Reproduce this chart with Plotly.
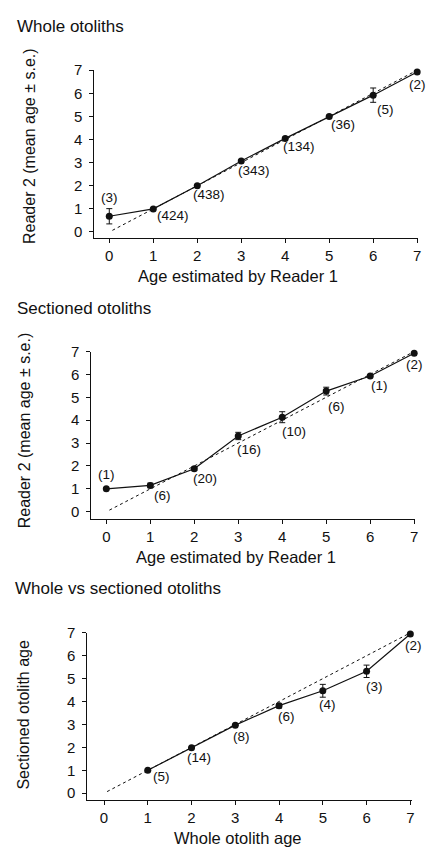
import plotly.graph_objects as go

W, H = 427, 849

# ---------------- data ----------------
ages = [0, 1, 2, 3, 4, 5, 6, 7]
whole_mean = [0.68, 1.0, 2.0, 3.07, 4.05, 5.0, 5.92, 6.92]
whole_se = [0.33, 0.0, 0.0, 0.0, 0.0, 0.0, 0.31, 0.0]
whole_n = ["(3)", "(424)", "(438)", "(343)", "(134)", "(36)", "(5)", "(2)"]

sect_mean = [1.0, 1.15, 1.88, 3.31, 4.13, 5.27, 5.93, 6.92]
sect_se = [0.0, 0.1, 0.07, 0.16, 0.24, 0.17, 0.0, 0.0]
sect_n = ["(1)", "(6)", "(20)", "(16)", "(10)", "(6)", "(1)", "(2)"]

wvs_age = [1, 2, 3, 4, 5, 6, 7]
wvs_mean = [1.0, 1.98, 2.97, 3.82, 4.47, 5.32, 6.95]
wvs_se = [0.0, 0.0, 0.0, 0.1, 0.28, 0.27, 0.0]
wvs_n = ["(5)", "(14)", "(8)", "(6)", "(4)", "(3)", "(2)"]

diag = [0.07, 7.0]
tick_vals = [0, 1, 2, 3, 4, 5, 6, 7]

titles = ["Whole otoliths", "Sectioned otoliths", "Whole vs sectioned otoliths"]
x_titles = ["Age estimated by Reader 1", "Age estimated by Reader 1", "Whole otolith age"]
y_titles = ["Reader 2 (mean age \u00b1 s.e.)", "Reader 2 (mean age \u00b1 s.e.)", "Sectioned otolith age"]

# ---------------- styles / layout helpers ----------------
FONT = "Liberation Sans, Arial, Helvetica, sans-serif"
INK = "#111111"

# label offsets in pixels (xshift, yshift)
whole_off = [(0, 19), (20, -7), (12, -9), (13, -9), (14, -8), (14, -8), (12, -14), (0, -12)]
sect_off = [(0, 14), (12, -10), (11, -10), (11, -14), (12, -14), (10, -15), (9, -10), (0, -11)]
wvs_off = [(14, -6), (7, -10), (6, -11), (7, -11), (5, -14), (8, -15), (3, -12)]

# panel geometry in pixels: (x_left, x_right, y_top, y_bottom, xrange, yrange)
panels = [
    (95, 421, 62, 232, [-0.34, 7.02], [-0.26, 7.0]),
    (92, 418, 347, 517, [-0.34, 7.02], [-0.33, 7.0]),
    (88, 415, 632, 801, [-0.38, 7.04], [-0.28, 7.0]),
]
title_pos = [(15, 18), (15, 303), (13, 587)]
xtitle_pos = [(240, 270), (238, 555), (240, 840)]
ytitle_pos = [(29, 139), (25, 427), (24, 715)]

series = [
    (ages, whole_mean, whole_se, whole_n, whole_off),
    (ages, sect_mean, sect_se, sect_n, sect_off),
    (wvs_age, wvs_mean, wvs_se, wvs_n, wvs_off),
]

fig = go.Figure()
annotations = []
layout_axes = {}

for i, (geom, ser) in enumerate(zip(panels, series)):
    xl, xr, yt, yb, xrng, yrng = geom
    xs, ys, se, ns, offs = ser
    k = "" if i == 0 else str(i + 1)
    xa, ya = "x" + k, "y" + k

    # dashed 1:1 reference line
    fig.add_trace(go.Scatter(
        x=diag, y=diag, mode="lines", xaxis=xa, yaxis=ya,
        line=dict(color=INK, width=1, dash="3px,3px"),
        hoverinfo="skip", showlegend=False, cliponaxis=False,
    ))
    # mean line with s.e.
    fig.add_trace(go.Scatter(
        x=xs, y=ys, mode="lines+markers", xaxis=xa, yaxis=ya,
        line=dict(color=INK, width=1.2),
        marker=dict(color=INK, size=7, symbol="circle"),
        error_y=dict(type="data", array=se, visible=True, color=INK,
                     thickness=1, width=3),
        showlegend=False, cliponaxis=False,
    ))

    for xv, yv, txt, (dx, dy) in zip(xs, ys, ns, offs):
        annotations.append(dict(
            x=xv, y=yv, xref=xa, yref=ya, text=txt, showarrow=False,
            xshift=dx, yshift=dy, xanchor="center", yanchor="middle",
            font=dict(family=FONT, size=13.5, color=INK),
        ))

    common = dict(
        showgrid=False, zeroline=False, showline=True, linecolor=INK,
        linewidth=1, ticks="outside", ticklen=4, tickwidth=1,
        tickcolor=INK, tickfont=dict(family=FONT, size=15, color=INK),
        tickvals=tick_vals, ticktext=[str(t) for t in tick_vals],
    )
    layout_axes["xaxis" + k] = dict(
        common, domain=[xl / W, xr / W], range=xrng,
        anchor=ya, fixedrange=True,
    )
    layout_axes["yaxis" + k] = dict(
        common, domain=[1 - yb / H, 1 - yt / H], range=yrng,
        anchor=xa, fixedrange=True, ticklabelstandoff=4,
    )

    tx, ty = title_pos[i]
    annotations.append(dict(
        x=tx / W, y=1 - ty / H, xref="paper", yref="paper", text=titles[i],
        showarrow=False, xanchor="left", yanchor="middle",
        font=dict(family=FONT, size=17, color=INK),
    ))
    ax, ay = xtitle_pos[i]
    annotations.append(dict(
        x=ax / W, y=1 - ay / H, xref="paper", yref="paper", text=x_titles[i],
        showarrow=False, xanchor="center", yanchor="middle",
        font=dict(family=FONT, size=16.5, color=INK),
    ))
    yx, yy = ytitle_pos[i]
    annotations.append(dict(
        x=yx / W, y=1 - yy / H, xref="paper", yref="paper", text=y_titles[i],
        showarrow=False, xanchor="center", yanchor="middle", textangle=-90,
        font=dict(family=FONT, size=16, color=INK),
    ))

fig.update_layout(
    width=W, height=H,
    margin=dict(l=0, r=0, t=0, b=0),
    paper_bgcolor="white", plot_bgcolor="white",
    showlegend=False,
    annotations=annotations,
    **layout_axes,
)

fig.write_html("out.html", config={"displayModeBar": False})
